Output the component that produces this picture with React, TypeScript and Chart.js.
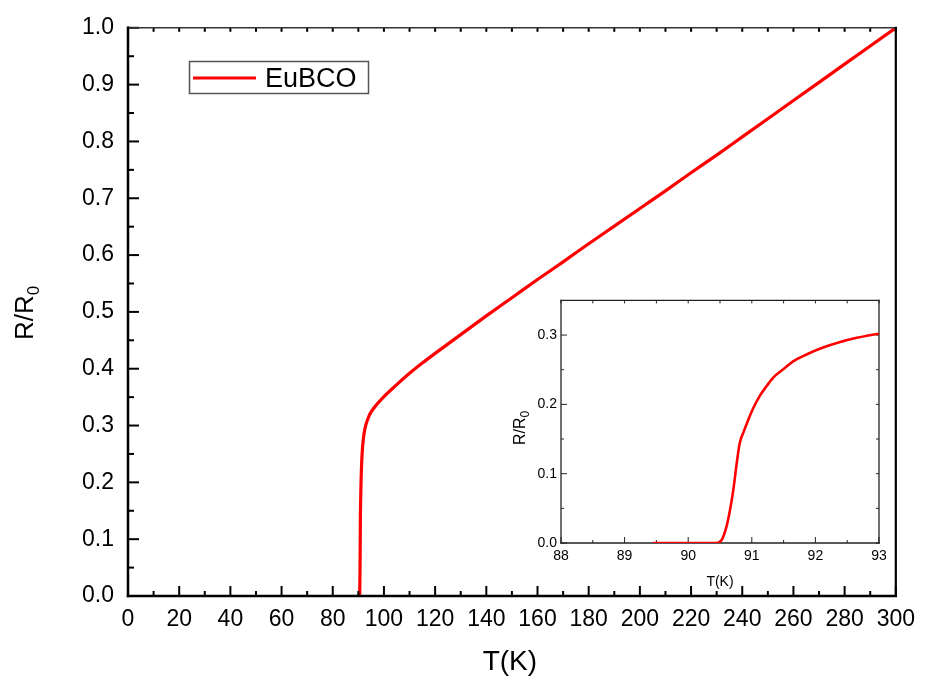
import { useEffect, useRef } from "react";
import { Chart, registerables } from "chart.js";

Chart.register(...registerables);

// Normalised resistance R/R0 of the EuBCO sample versus temperature.
const temperatureK = [
  89.45, 89.8, 90.1, 90.45, 90.53, 90.6, 90.65, 90.71, 90.76, 90.81, 90.87, 90.95,
  91.02, 91.13, 91.23, 91.34, 91.5, 91.65, 91.86, 92.12, 92.39, 92.65, 93.0, 94, 95,
  97, 100, 105, 110, 115, 120, 130, 140, 150, 160, 170, 180, 190, 200, 210, 220, 230,
  240, 250, 260, 270, 280, 290, 300,
];
const resistanceRatio = [
  0, 0, 0, 0, 0.005, 0.023, 0.044, 0.077, 0.113, 0.144, 0.16, 0.179, 0.194, 0.213,
  0.226, 0.239, 0.251, 0.262, 0.272, 0.282, 0.29, 0.296, 0.302, 0.315, 0.324, 0.336,
  0.351, 0.372, 0.392, 0.41, 0.427, 0.46, 0.493, 0.525, 0.557, 0.588, 0.62, 0.651,
  0.682, 0.713, 0.745, 0.776, 0.808, 0.84, 0.872, 0.904, 0.936, 0.968, 1.0,
];
const seriesLabel = "EuBCO";

// Main axes
const mainXTicks = [0, 20, 40, 60, 80, 100, 120, 140, 160, 180, 200, 220, 240, 260, 280, 300];
const mainXMinor = [10, 30, 50, 70, 90, 110, 130, 150, 170, 190, 210, 230, 250, 270, 290];
const mainYTicks = [0, 0.1, 0.2, 0.3, 0.4, 0.5, 0.6, 0.7, 0.8, 0.9, 1.0];
const mainYMinor = [0.05, 0.15, 0.25, 0.35, 0.45, 0.55, 0.65, 0.75, 0.85, 0.95];

// Inset axes (zoom on the transition)
const insetXTicks = [88, 89, 90, 91, 92, 93];
const insetXMinor = [88.5, 89.5, 90.5, 91.5, 92.5];
const insetYTicks = [0, 0.1, 0.2, 0.3];
const insetYMinor = [0.05, 0.15, 0.25];
const insetYMax = 0.35;

const FONT = "'Liberation Sans', Arial, Helvetica, sans-serif";
const RED = "#ff0000";

type Side = { color: string; width: number; major: number; minor: number };
type FrameSpec = {
  xMajor: number[];
  xMinor: number[];
  yMajor: number[];
  yMinor: number[];
  left: Side;
  bottom: Side;
  top: Side;
  right: Side;
  tickWidth: number;
  tickColor: string;
};

function drawFrame(chart: any, spec: FrameSpec) {
  const { ctx, chartArea: a, scales } = chart;
  const xs = scales.x;
  const ys = scales.y;
  const seg = (x1: number, y1: number, x2: number, y2: number, color: string, w: number) => {
    if (w <= 0) return;
    ctx.beginPath();
    ctx.strokeStyle = color;
    ctx.lineWidth = w;
    ctx.moveTo(x1, y1);
    ctx.lineTo(x2, y2);
    ctx.stroke();
  };
  ctx.save();
  ctx.lineCap = "butt";
  const tw = spec.tickWidth;
  const tc = spec.tickColor;
  const xTick = (v: number, major: boolean) => {
    const px = xs.getPixelForValue(v);
    const lb = major ? spec.bottom.major : spec.bottom.minor;
    const lt = major ? spec.top.major : spec.top.minor;
    if (lb) seg(px, a.bottom, px, a.bottom - lb, tc, tw);
    if (lt) seg(px, a.top, px, a.top + lt, tc, tw);
  };
  const yTick = (v: number, major: boolean) => {
    const py = ys.getPixelForValue(v);
    const ll = major ? spec.left.major : spec.left.minor;
    const lr = major ? spec.right.major : spec.right.minor;
    if (ll) seg(a.left, py, a.left + ll, py, tc, tw);
    if (lr) seg(a.right, py, a.right - lr, py, tc, tw);
  };
  spec.xMajor.forEach((v) => xTick(v, true));
  spec.xMinor.forEach((v) => xTick(v, false));
  spec.yMajor.forEach((v) => yTick(v, true));
  spec.yMinor.forEach((v) => yTick(v, false));
  ctx.lineCap = "square";
  seg(a.left, a.top, a.right, a.top, spec.top.color, spec.top.width);
  seg(a.right, a.top, a.right, a.bottom, spec.right.color, spec.right.width);
  seg(a.left, a.top, a.left, a.bottom, spec.left.color, spec.left.width);
  seg(a.left, a.bottom, a.right, a.bottom, spec.bottom.color, spec.bottom.width);
  ctx.restore();
}

// Rotated "R/R0" with a subscript zero, centred on (x, y); x is the baseline.
function drawRatioTitle(ctx: CanvasRenderingContext2D, x: number, y: number, size: number, subSize: number, subDrop: number) {
  ctx.save();
  ctx.translate(x, y);
  ctx.rotate(-Math.PI / 2);
  ctx.fillStyle = "#000";
  ctx.textBaseline = "alphabetic";
  ctx.textAlign = "left";
  ctx.font = `${size}px ${FONT}`;
  const main = "R/R";
  const w1 = ctx.measureText(main).width;
  ctx.font = `${subSize}px ${FONT}`;
  const w2 = ctx.measureText("0").width;
  const start = -(w1 + w2) / 2;
  ctx.font = `${size}px ${FONT}`;
  ctx.fillText(main, start, 0);
  ctx.font = `${subSize}px ${FONT}`;
  ctx.fillText("0", start + w1, subDrop);
  ctx.restore();
}

function fixedTicks(values: number[]) {
  return (scale: any) => {
    scale.ticks = values.map((v) => ({ value: v }));
  };
}

export default function App() {
  const mainRef = useRef<HTMLCanvasElement | null>(null);
  const insetRef = useRef<HTMLCanvasElement | null>(null);

  useEffect(() => {
    const points = temperatureK.map((t, i) => ({ x: t, y: resistanceRatio[i] }));

    const mainDecor = {
      id: "mainDecor",
      afterDatasetsDraw(chart: any) {
        drawFrame(chart, {
          xMajor: mainXTicks,
          xMinor: mainXMinor,
          yMajor: mainYTicks,
          yMinor: mainYMinor,
          left: { color: "#000", width: 2.5, major: 11, minor: 6 },
          bottom: { color: "#000", width: 2.5, major: 10, minor: 5 },
          top: { color: "#333", width: 1.6, major: 4, minor: 4 },
          right: { color: "#000", width: 2.2, major: 0, minor: 0 },
          tickWidth: 2,
          tickColor: "#000",
        });
      },
      afterDraw(chart: any) {
        const { ctx, chartArea: a } = chart;
        // axis titles
        ctx.save();
        ctx.fillStyle = "#000";
        ctx.font = `28px ${FONT}`;
        ctx.textAlign = "center";
        ctx.textBaseline = "alphabetic";
        ctx.fillText("T(K)", (a.left + a.right) / 2 - 2, 670);
        ctx.restore();
        drawRatioTitle(ctx, 33, 313, 26, 17, 6);
        // legend
        ctx.save();
        ctx.strokeStyle = "#555";
        ctx.lineWidth = 1.5;
        ctx.strokeRect(189.5, 61.5, 179, 32);
        ctx.beginPath();
        ctx.strokeStyle = RED;
        ctx.lineWidth = 3.2;
        ctx.moveTo(193, 78);
        ctx.lineTo(256, 78);
        ctx.stroke();
        ctx.fillStyle = "#000";
        ctx.font = `27px ${FONT}`;
        ctx.textAlign = "left";
        ctx.textBaseline = "alphabetic";
        ctx.fillText(seriesLabel, 265, 87);
        ctx.restore();
      },
    };

    const mainChart = new Chart(mainRef.current as HTMLCanvasElement, {
      type: "line",
      data: {
        datasets: [
          {
            label: seriesLabel,
            data: points,
            borderColor: RED,
            borderWidth: 3.2,
            pointRadius: 0,
            cubicInterpolationMode: "monotone",
            fill: false,
          },
        ],
      },
      options: {
        animation: false,
        responsive: false,
        events: [],
        layout: { padding: { left: 0, top: 23, right: 24, bottom: 0 } },
        plugins: { legend: { display: false }, tooltip: { enabled: false } },
        scales: {
          x: {
            type: "linear",
            min: 0,
            max: 300,
            afterBuildTicks: fixedTicks(mainXTicks),
            afterFit: (s: any) => {
              s.height = 86;
            },
            grid: { display: false, drawTicks: false },
            border: { display: false },
            ticks: {
              color: "#000",
              font: { family: FONT, size: 23 },
              padding: 10,
              maxRotation: 0,
              autoSkip: false,
              callback: (v: any) => String(Math.round(Number(v))),
            },
          },
          y: {
            type: "linear",
            min: 0,
            max: 1,
            afterBuildTicks: fixedTicks(mainYTicks),
            afterFit: (s: any) => {
              s.width = 128;
            },
            grid: { display: false, drawTicks: false },
            border: { display: false },
            ticks: {
              color: "#000",
              font: { family: FONT, size: 23 },
              padding: 14,
              autoSkip: false,
              callback: (v: any) => Number(v).toFixed(1),
            },
          },
        },
      },
      plugins: [mainDecor],
    } as any);

    const insetDecor = {
      id: "insetDecor",
      beforeDatasetsDraw(chart: any) {
        drawFrame(chart, {
          xMajor: insetXTicks,
          xMinor: insetXMinor,
          yMajor: insetYTicks,
          yMinor: insetYMinor,
          left: { color: "#222", width: 1.3, major: 6, minor: 3 },
          bottom: { color: "#222", width: 1.3, major: 6, minor: 3 },
          top: { color: "#222", width: 1.3, major: 3, minor: 3 },
          right: { color: "#222", width: 1.3, major: 3, minor: 3 },
          tickWidth: 1,
          tickColor: "#222",
        });
      },
      afterDraw(chart: any) {
        const { ctx, chartArea: a } = chart;
        ctx.save();
        ctx.fillStyle = "#000";
        ctx.font = `14px ${FONT}`;
        ctx.textAlign = "center";
        ctx.textBaseline = "alphabetic";
        ctx.fillText("T(K)", (a.left + a.right) / 2, 298);
        ctx.restore();
        drawRatioTitle(ctx, 25, 140, 16, 12, 4);
      },
    };

    const insetChart = new Chart(insetRef.current as HTMLCanvasElement, {
      type: "line",
      data: {
        datasets: [
          {
            label: seriesLabel,
            data: points,
            borderColor: RED,
            borderWidth: 2.6,
            pointRadius: 0,
            cubicInterpolationMode: "monotone",
            fill: false,
          },
        ],
      },
      options: {
        animation: false,
        responsive: false,
        events: [],
        layout: { padding: { left: 0, top: 10, right: 21, bottom: 0 } },
        plugins: { legend: { display: false }, tooltip: { enabled: false } },
        scales: {
          x: {
            type: "linear",
            min: 88,
            max: 93,
            afterBuildTicks: fixedTicks(insetXTicks),
            afterFit: (s: any) => {
              s.height = 55;
            },
            grid: { display: false, drawTicks: false },
            border: { display: false },
            ticks: {
              color: "#000",
              font: { family: FONT, size: 14 },
              padding: 5,
              maxRotation: 0,
              autoSkip: false,
              callback: (v: any) => String(Math.round(Number(v))),
            },
          },
          y: {
            type: "linear",
            min: 0,
            max: insetYMax,
            afterBuildTicks: fixedTicks(insetYTicks),
            afterFit: (s: any) => {
              s.width = 61;
            },
            grid: { display: false, drawTicks: false },
            border: { display: false },
            ticks: {
              color: "#000",
              font: { family: FONT, size: 14 },
              padding: 4,
              autoSkip: false,
              callback: (v: any) => Number(v).toFixed(1),
            },
          },
        },
      },
      plugins: [insetDecor],
    } as any);

    return () => {
      mainChart.destroy();
      insetChart.destroy();
    };
  }, []);

  return (
    <div
      style={{
        position: "absolute",
        left: 0,
        top: 0,
        width: 925,
        height: 682,
        background: "#fff",
        overflow: "hidden",
      }}
    >
      <canvas
        ref={mainRef}
        width={925}
        height={682}
        style={{ position: "absolute", left: 0, top: 0, width: 925, height: 682 }}
      />
      <canvas
        ref={insetRef}
        width={400}
        height={310}
        style={{ position: "absolute", left: 500, top: 288, width: 400, height: 310 }}
      />
    </div>
  );
}
